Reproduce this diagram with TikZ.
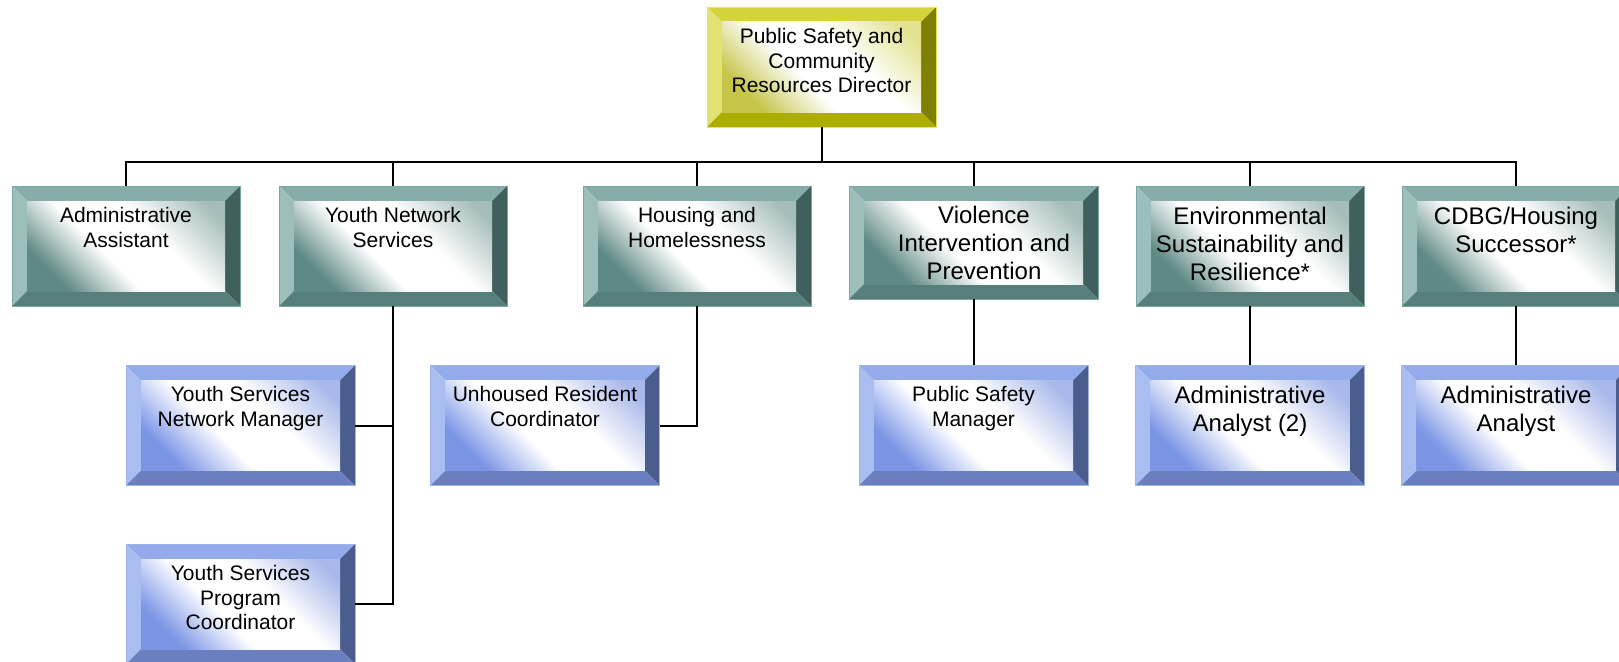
\documentclass[tikz,border=0pt]{standalone}
\usepackage{fontspec}
\setmainfont{Liberation Sans}
\usetikzlibrary{calc}
\definecolor{tealT}{HTML}{86ADA9}
\definecolor{tealL}{HTML}{9DBFBB}
\definecolor{tealR}{HTML}{3F605D}
\definecolor{tealB}{HTML}{567F7B}
\definecolor{tealF}{HTML}{5F8985}
\definecolor{tealG}{HTML}{A6BEBB}
\definecolor{tealE}{HTML}{7CA6A2}
\definecolor{blueT}{HTML}{94ABEB}
\definecolor{blueL}{HTML}{AABDF1}
\definecolor{blueR}{HTML}{4A5D8D}
\definecolor{blueB}{HTML}{6A7FBE}
\definecolor{blueF}{HTML}{7B95E5}
\definecolor{blueG}{HTML}{A8B8EA}
\definecolor{blueE}{HTML}{9FB3EE}
\definecolor{goldT}{HTML}{D4D43A}
\definecolor{goldL}{HTML}{E2E273}
\definecolor{goldR}{HTML}{7F7F00}
\definecolor{goldB}{HTML}{ADAD00}
\definecolor{goldF}{HTML}{C6C54A}
\definecolor{goldG}{HTML}{E2E290}
\definecolor{goldE}{HTML}{E6E65C}
\colorlet{bvF}{tealF}
\colorlet{bvG}{tealG}
\pgfdeclareverticalshading[bvF,bvG]{bevelface}{100bp}{color(0bp)=(bvF); color(25bp)=(bvF); color(43bp)=(white); color(60bp)=(white); color(80bp)=(bvG); color(100bp)=(bvG)}

\tikzset{
  bevel colors/.code n args={7}{%
    \colorlet{bvT}{#1}\colorlet{bvL}{#2}\colorlet{bvR}{#3}\colorlet{bvB}{#4}%
    \colorlet{bvF}{#5}\colorlet{bvG}{#6}\colorlet{bvE}{#7}},
  orgbox/.style={rectangle, inner sep=0pt, draw=bvE, line width=0.8pt,
    path picture={
      \coordinate (nw) at (path picture bounding box.north west);
      \coordinate (se) at (path picture bounding box.south east);
      \coordinate (ne) at (se |- nw);
      \coordinate (sw) at (nw |- se);
      \coordinate (inw) at ([xshift=15pt,yshift=-15pt]nw);
      \coordinate (ise) at ([xshift=-15pt,yshift=15pt]se);
      \coordinate (ine) at (ise |- inw);
      \coordinate (isw) at (inw |- ise);
      \fill[bvT] (nw) -- (ne) -- (ine) -- (inw) -- cycle;
      \fill[bvL] (nw) -- (inw) -- (isw) -- (sw) -- cycle;
      \fill[bvR] (ne) -- (se) -- (ise) -- (ine) -- cycle;
      \fill[bvB] (sw) -- (isw) -- (ise) -- (se) -- cycle;
      \shade[shading=bevelface, shading angle=-45] (inw) rectangle (ise);
    }},
  boxsize/.style 2 args={minimum width=#1pt, minimum height=#2pt,
    execute at begin node={\begin{minipage}[t][\dimexpr#2pt-42pt\relax][t]{\dimexpr#1pt-14pt\relax}\centering},
    execute at end node={\end{minipage}}},
  goldbox/.style={bevel colors={goldT}{goldL}{goldR}{goldB}{goldF}{goldG}{goldE}, orgbox, boxsize={229}{120}},
  tealbox/.style={bevel colors={tealT}{tealL}{tealR}{tealB}{tealF}{tealG}{tealE}, orgbox, boxsize={228}{120}},
  bluebox/.style={bevel colors={blueT}{blueL}{blueR}{blueB}{blueF}{blueG}{blueE}, orgbox, boxsize={229}{120}},
  smalltext/.style={font=\fontsize{21}{24.8}\selectfont},
  largetext/.style={font=\fontsize{24}{28}\selectfont},
  orgline/.style={black, line width=2pt},
}

\begin{document}
\begin{tikzpicture}[x=1pt, y=-1pt]
  % Canvas
  \useasboundingbox (0,0) rectangle (1619,661);
  \clip (0,0) rectangle (1619,661);

  % Director
  \node[goldbox, smalltext] (dir) at (821.5,67) {Public Safety and\\Community\\Resources Director};

  % Divisions
  \node[tealbox, smalltext] (admin) at (126,246) {Administrative\\Assistant};
  \node[tealbox, smalltext] (yns) at (393,246) {Youth Network\\Services};
  \node[tealbox, smalltext] (hh) at (697,246) {Housing and\\Homelessness};
  \node[tealbox, largetext, boxsize={249}{113}] (vip) at (973.5,242.5) {\vspace*{3pt}Violence\\Intervention and\\Prevention};
  \node[tealbox, largetext] (esr) at (1250,246) {Environmental\\Sustainability and\\Resilience*};
  \node[tealbox, largetext] (cdbg) at (1516,246) {CDBG/Housing\\Successor*};

  % Staff
  \node[bluebox, smalltext] (ysnm) at (240.5,425.5) {Youth Services\\Network Manager};
  \node[bluebox, smalltext] (yspc) at (240.5,604) {Youth Services\\Program\\Coordinator};
  \node[bluebox, smalltext] (urc) at (545,425.5) {Unhoused Resident\\Coordinator};
  \node[bluebox, smalltext] (psm) at (973.5,425.5) {Public Safety\\Manager};
  \node[bluebox, largetext] (aa2) at (1250,425.5) {Administrative\\Analyst (2)};
  \node[bluebox, largetext] (aa1) at (1516,425.5) {Administrative\\Analyst};

  % Top bus
  \coordinate (bus) at (821.5,162);
  \draw[orgline] (dir.south) -- (bus);
  \draw[orgline] (admin.north) -- (admin.north |- bus) -- (cdbg.north |- bus) -- (cdbg.north);
  \foreach \n in {yns, hh, vip, esr}
    \draw[orgline] (\n.north) -- (\n.north |- bus);

  % Second level
  \draw[orgline] (yns.south) |- (ysnm.east);
  \draw[orgline] (yns.south) |- (yspc.east);
  \draw[orgline] (hh.south) |- (urc.east);
  \draw[orgline] (vip.south) -- (psm.north);
  \draw[orgline] (esr.south) -- (aa2.north);
  \draw[orgline] (cdbg.south) -- (aa1.north);
\end{tikzpicture}
\end{document}
